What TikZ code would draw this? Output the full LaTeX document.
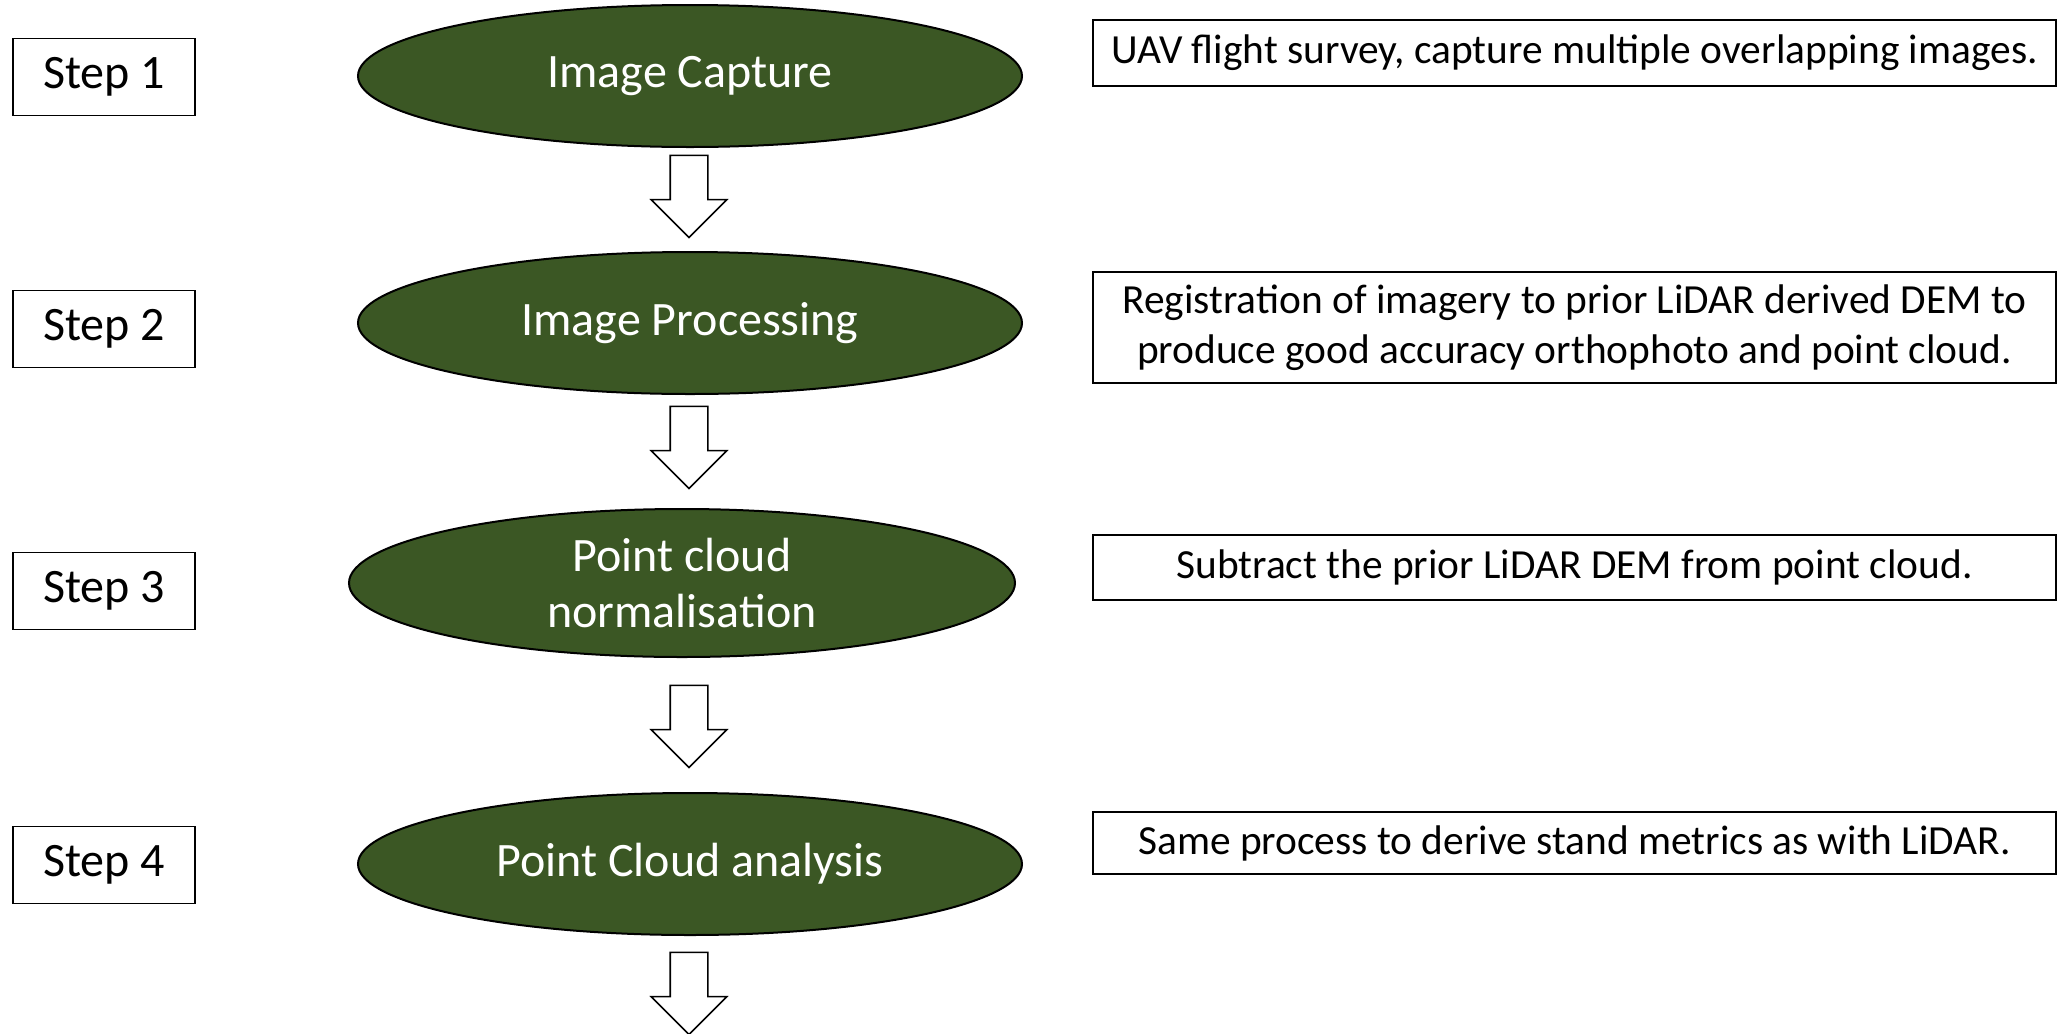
\documentclass[tikz,border=0pt]{standalone}
\usepackage{fontspec}
\setmainfont{Carlito}
\usetikzlibrary{shapes.geometric,shapes.arrows}
\definecolor{leafgreen}{RGB}{59,87,36}
\begin{document}
\begin{tikzpicture}[x=0.5pt,y=-0.5pt,
		stepbox/.style={draw, line width=0.8pt, minimum width=91pt, minimum height=38.5pt, inner sep=0pt, font=\fontsize{24}{29}\selectfont},
		stage/.style={ellipse, draw, line width=1pt, fill=leafgreen, text=white, minimum width=332pt, minimum height=71pt, inner sep=0pt, align=center, font=\fontsize{24}{28}\selectfont},
		note/.style={draw, line width=0.8pt, minimum width=481.5pt, inner sep=0pt, align=center, font=\fontsize{20.7}{25}\selectfont},
		downarrow/.style={single arrow, draw, line width=0.8pt, fill=white, minimum height=41pt, minimum width=37pt, single arrow head extend=9.5pt, inner sep=9pt, shape border rotate=270}]
	\useasboundingbox (0,0) rectangle (2063,1034);

	\node [stepbox] (step1) at (104,77) {Step 1};
	\node [stepbox] (step2) at (104,329) {Step 2};
	\node [stepbox] (step3) at (104,591) {Step 3};
	\node [stepbox] (step4) at (104,865) {Step 4};

	\node [stage] (capture) at (690,76) {Image Capture};
	\node [stage] (processing) at (690,323) {Image Processing};
	\node [stage, minimum width=333pt, minimum height=74pt] (normalise) at (682,583) {Point cloud\\normalisation};
	\node [stage] (analysis) at (690,864) {Point Cloud analysis};

	\node [downarrow] (arr1) at (689,187) {};
	\node [downarrow] (arr2) at (689,438) {};
	\node [downarrow] (arr3) at (689,717) {};
	\node [downarrow] (arr4) at (689,984) {};

	\node [note, minimum height=33pt] (survey) at (1574.5,53) {UAV flight survey, capture multiple overlapping images.};
	\node [note, minimum height=55.5pt] (register) at (1574.5,327.5) {Registration of imagery to prior LiDAR derived DEM to\\produce good accuracy orthophoto and point cloud.};
	\node [note, minimum height=32.5pt] (subtract) at (1574.5,567.5) {Subtract the prior LiDAR DEM from point cloud.};
	\node [note, minimum height=31pt] (metrics) at (1574.5,843) {Same process to derive stand metrics as with LiDAR.};
\end{tikzpicture}
\end{document}
